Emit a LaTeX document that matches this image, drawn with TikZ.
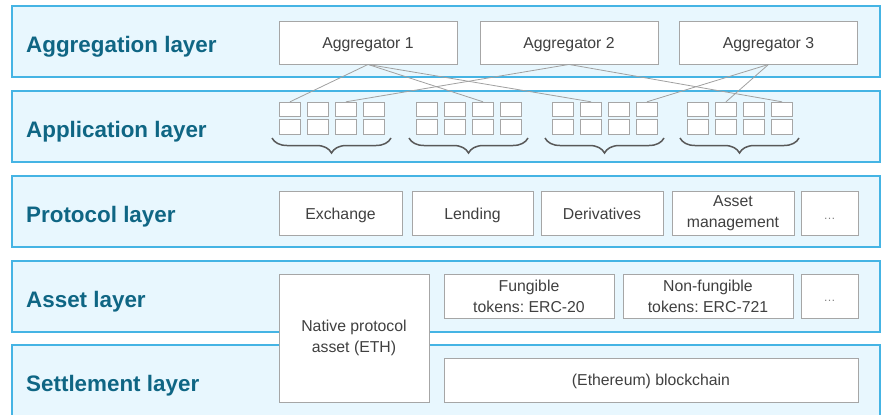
\documentclass[tikz,border=0pt]{standalone}
\usepackage{fontspec}
\setmainfont{Liberation Sans}
\usepackage{xcolor}
\definecolor{layerfill}{HTML}{E8F7FE}
\definecolor{layerline}{HTML}{45B4E4}
\definecolor{layertext}{HTML}{0F6684}
\definecolor{boxline}{HTML}{A6A6A6}
\definecolor{boxtext}{HTML}{404040}
\definecolor{linkgray}{HTML}{A0A0A0}
\definecolor{bracegray}{HTML}{595959}
\usepackage{tikz}
\usetikzlibrary{decorations.pathreplacing}
\frenchspacing

\begin{document}
\begin{tikzpicture}[x=1pt, y=-1pt,
    layer/.style={draw=layerline, fill=layerfill, line width=1.3pt},
    layerlabel/.style={anchor=base west, inner sep=0, text=layertext, font=\fontsize{22.4}{25}\selectfont\bfseries},
    box/.style={draw=boxline, fill=white, line width=0.9pt, inner sep=0, align=center, text=boxtext, font=\fontsize{15.8}{21}\selectfont},
    oneline/.style={box, text height=11pt, text depth=0pt},
    more/.style={oneline, text=gray, font=\fontsize{12}{14}\selectfont},
    cell/.style={draw=boxline, fill=white, line width=0.9pt, minimum width=21.5pt, minimum height=14.5pt, inner sep=0},
    link/.style={draw=linkgray, line width=0.8pt},
    brace/.style={decorate, decoration={brace, mirror, amplitude=15pt}, draw=bracegray, line width=1.5pt}]
    \useasboundingbox (0,0) rectangle (881,415);
    \clip (0,0) rectangle (881,415);
    % Layers
    \foreach \y/\name in {6/Aggregation, 91/Application, 176/Protocol, 261/Asset, 345/Settlement} {
      \draw[layer] (12,\y) rectangle (880,\y+71);
      \node[layerlabel] (lbl\name) at (26,\y+46) {\name{} layer};
    }
    % Aggregators
    \foreach \i/\x in {1/368, 2/569, 3/768.5}
      \node[oneline, minimum width=178pt, minimum height=43pt] (agg\i) at (\x,42.5) {Aggregator \i};
    % Applications
    \foreach \g/\x in {1/279, 2/416, 3/552, 4/687} {
      \foreach \c in {1,...,4} {
        \node[cell] (cell-\g-\c-1) at (\x+28*\c-17,109.5) {};
        \node[cell] (cell-\g-\c-2) at (\x+28*\c-17,126.7) {};
      }
      \draw[brace] (\x-7,138) -- (\x+112,138);
    }
    % Links
    \foreach \a/\g/\c in {1/1/1, 1/2/3, 1/3/2, 2/1/3, 2/4/4, 3/3/4, 3/4/2}
      \draw[link] (agg\a.south) -- (cell-\g-\c-1.north);
    % Protocols
    \foreach \nm/\x/\w/\txt in {exch/340.5/123/Exchange, lend/472.5/121/Lending, deriv/602/122/Derivatives}
      \node[oneline, minimum width=\w pt, minimum height=43.5pt] (\nm) at (\x,213.5) {\txt};
    \node[box, minimum width=122pt, minimum height=43.5pt] (mgmt) at (733,213.5) {Asset\\management};
    \node[more, minimum width=57pt, minimum height=43.5pt] (protmore) at (829.5,213.5) {\ldots};
    % Assets
    \node[box, minimum width=150pt, minimum height=128pt] (native) at (354,338) {Native protocol\\asset (ETH)};
    \node[box, minimum width=170pt, minimum height=44pt] (fung) at (529,296) {Fungible\\tokens: ERC-20};
    \node[box, minimum width=170pt, minimum height=44pt] (nonfung) at (708,296) {Non-fungible\\tokens: ERC-721};
    \node[more, minimum width=57pt, minimum height=44pt] (assetmore) at (829.5,296) {\ldots};
    % Settlement
    \node[oneline, minimum width=414pt, minimum height=44pt] (chain) at (651,380) {(Ethereum) blockchain};
  \end{tikzpicture}
\end{document}
